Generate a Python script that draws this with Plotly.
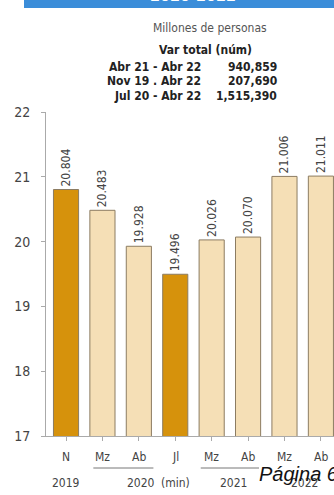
import plotly.graph_objects as go

months = ["N", "Mz", "Ab", "Jl", "Mz", "Ab", "Mz", "Ab"]
years = ["2019", "2020", "2020", "2020", "2021", "2021", "2022", "2022"]
values = [20.804, 20.483, 19.928, 19.496, 20.026, 20.070, 21.006, 21.011]
highlight = [True, False, False, True, False, False, False, False]
y_ticks = [17, 18, 19, 20, 21, 22]
var_labels = ["Abr 21 - Abr 22", "Nov 19 . Abr 22", "Jul 20 - Abr 22"]
var_values = ["940,859", "207,690", "1,515,390"]

DARK = "#D6920C"
LIGHT = "#F5DFB6"
FONT = "DejaVu Sans Condensed, Roboto, sans-serif"

W, H = 334, 495
T, B, L = 112, 59, 46
ph = H - T - B

def py(pix):
    return (H - B - pix) / ph

def px(pix):
    return (pix - L) / (W - L)

x = list(range(len(values)))
fig = go.Figure()
fig.add_trace(go.Bar(
    x=x, y=values, width=0.69,
    marker=dict(color=[DARK if h else LIGHT for h in highlight],
                line=dict(color="#8c7c62", width=1)),
    text=[f"{v:.3f}" for v in values], textposition="outside",
    textangle=-90, constraintext="none",
    textfont=dict(family=FONT, size=12, color="#444"),
    cliponaxis=False, showlegend=False,
))

ann = []
def add(xv, yv, text, xref="paper", xanchor="center", font=None):
    ann.append(dict(x=xv, y=yv, xref=xref, yref="paper", text=text, showarrow=False,
                    xanchor=xanchor, yanchor="middle", font=font))

for i, m in enumerate(months):
    add(i, py(457), m, xref="x", font=dict(family=FONT, size=12, color="#444"))
bottom = [(0, "2019"), (2.05, "2020"), (3.0, "(min)"), (4.6, "2021"), (6.55, "2022")]
for xi, t in bottom:
    add(xi, py(483), t, xref="x", font=dict(family=FONT, size=12, color="#444"))

add(px(257), py(474), "Página 6", xanchor="left",
    font=dict(family="Liberation Sans", size=20, color="#111", style="italic"))

add(px(210), py(28), "Millones de personas", font=dict(family=FONT, size=12, color="#555"))
add(px(205), py(50), "<b>Var total (núm)</b>", font=dict(family=FONT, size=12, color="#222"))
for k, (lab, val) in enumerate(zip(var_labels, var_values)):
    yy = py(67 + k * 14.5)
    add(px(203), yy, f"<b>{lab}</b>", xanchor="right", font=dict(family=FONT, size=12, color="#222"))
    add(px(279), yy, f"<b>{val}</b>", xanchor="right", font=dict(family=FONT, size=12, color="#222"))
ann.append(dict(x=px(193), y=py(7), xref="paper", yref="paper", xanchor="center",
                text="<b>2020-2022</b>", yanchor="bottom", showarrow=False,
                font=dict(family=FONT, size=16, color="white")))

shapes = [
    dict(type="rect", xref="paper", yref="paper", x0=px(24), x1=1.01,
         y0=py(8), y1=py(-5), fillcolor="#3B8DD9", line=dict(width=0), layer="below"),
    dict(type="line", xref="x", yref="paper", x0=0.75, x1=2.4, y0=py(468), y1=py(468),
         line=dict(color="#777", width=1)),
    dict(type="line", xref="x", yref="paper", x0=3.7, x1=5.3, y0=py(468), y1=py(468),
         line=dict(color="#777", width=1)),
]

fig.update_layout(
    width=W, height=H, margin=dict(l=L, r=0, t=T, b=B),
    paper_bgcolor="white", plot_bgcolor="white",
    annotations=ann, shapes=shapes, bargap=0.3,
    xaxis=dict(range=[-0.55, 7.36], showticklabels=False, showline=True, linecolor="#aaa",
               ticks="outside", ticklen=4, tickcolor="#aaa", tickson="boundaries",
               tickmode="array", tickvals=x, showgrid=False, zeroline=False),
    yaxis=dict(range=[17, 22], tickvals=y_ticks, showline=True, linecolor="#aaa",
               ticks="outside", ticklen=4, tickcolor="#aaa", showgrid=False, zeroline=False,
               ticklabelstandoff=8,
               tickfont=dict(family=FONT, size=14, color="#444")),
)
fig.write_html("out.html")
